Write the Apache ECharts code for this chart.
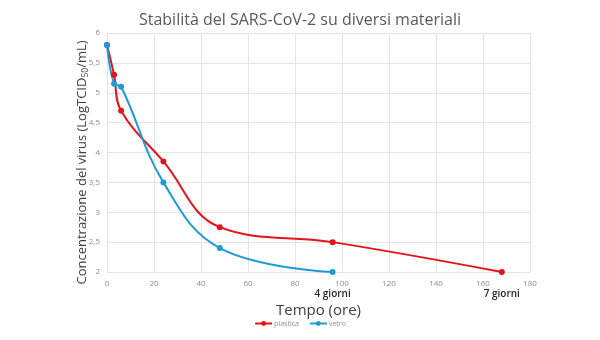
<!DOCTYPE html>
<html><head><meta charset="utf-8">
<script src="https://cdn.jsdelivr.net/npm/echarts@6/dist/echarts.min.js"></script>
<style>html,body{margin:0;padding:0;background:#fff}#c{width:600px;height:340px}</style>
</head><body><div id="c"></div>
<script>
const titleText = 'Stabilità del SARS-CoV-2 su diversi materiali';
const plasticaHours = [0, 3, 6, 24, 48, 96, 168];
const plasticaValues = [5.8, 5.3, 4.7, 3.85, 2.75, 2.5, 2.0];
const vetroHours = [0, 3, 6, 24, 48, 96];
const vetroValues = [5.8, 5.15, 5.1, 3.5, 2.4, 2.0];
const dayTicks = [96, 168];
const dayLabels = ['4 giorni', '7 giorni'];
const FONT = '"Open Sans", "Noto Sans", sans-serif';
const RED = '#e3141c', BLUE = '#1e9bd7';

const chart = echarts.init(document.getElementById('c'), null, {renderer: 'canvas'});
chart.setOption({
  animation: false,
  title: {text: titleText, left: 'center', top: 7,
    textStyle: {fontFamily: FONT, fontSize: 16, fontWeight: 'normal', color: '#595959'}},
  grid: {left: 107, right: 70, top: 33, bottom: 68, containLabel: false},
  legend: {bottom: 8, left: 'center', itemWidth: 17, itemHeight: 6, itemGap: 10,
    textStyle: {fontFamily: FONT, fontSize: 7, color: '#8c8c8c', padding: [0, 0, 0, -3]},
    data: ['plastica', 'vetro']},
  xAxis: [{
    type: 'value', min: 0, max: 180, interval: 20,
    name: 'Tempo (ore)', nameLocation: 'middle', nameGap: 31,
    nameTextStyle: {fontFamily: FONT, fontSize: 15, color: '#404040'},
    axisLine: {show: false}, axisTick: {show: false},
    axisLabel: {fontFamily: FONT, fontSize: 8, color: '#8c8c8c', margin: 8},
    splitLine: {show: true, lineStyle: {color: '#e4e4e4', width: 1}}
  }, {
    type: 'value', min: 0, max: 180, position: 'bottom', offset: 9,
    axisLine: {show: false}, axisTick: {show: false}, splitLine: {show: false},
    axisLabel: {customValues: dayTicks, fontFamily: FONT, fontSize: 10, fontWeight: 600, color: '#262626',
      formatter: v => dayLabels[dayTicks.indexOf(v)] || ''}
  }],
  yAxis: {
    type: 'value', min: 2, max: 6, interval: 0.5,
    name: '{a|Concentrazione del virus (LogTCID}{s|50}{a|/mL)}',
    nameLocation: 'middle', nameGap: 17, nameRotate: 90, nameMoveOverlap: false,
    nameTextStyle: {padding: [0, 20, 0, 0], rich: {
      a: {fontFamily: FONT, fontSize: 13, color: '#404040'},
      s: {fontFamily: FONT, fontSize: 8.5, color: '#404040', verticalAlign: 'bottom', padding: [7, 0, 0, 0]}
    }},
    axisLine: {show: false}, axisTick: {show: false},
    axisLabel: {fontFamily: FONT, fontSize: 8, color: '#8c8c8c', margin: 7,
      formatter: v => String(v).replace('.', ',')},
    splitLine: {show: true, lineStyle: {color: '#e4e4e4', width: 1}}
  },
  series: [{
    name: 'plastica', type: 'line', smooth: 0.4, xAxisIndex: 0,
    data: plasticaHours.map((h, i) => [h, plasticaValues[i]]),
    symbol: 'circle', symbolSize: 6,
    lineStyle: {color: RED, width: 2}, itemStyle: {color: RED}
  }, {
    name: 'vetro', type: 'line', smooth: 0.4, xAxisIndex: 0,
    data: vetroHours.map((h, i) => [h, vetroValues[i]]),
    symbol: 'circle', symbolSize: 6,
    lineStyle: {color: BLUE, width: 2}, itemStyle: {color: BLUE}
  }]
});
</script></body></html>
